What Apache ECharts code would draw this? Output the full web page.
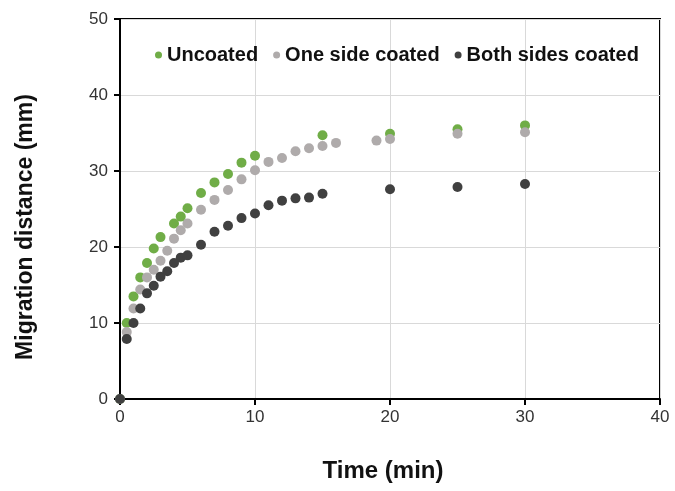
<!DOCTYPE html>
<html>
<head>
<meta charset="utf-8">
<script src="https://cdn.jsdelivr.net/npm/echarts@6/dist/echarts.min.js"></script>
<style>
html,body{margin:0;padding:0;background:#fff}
#chart{width:675px;height:491px}
</style>
</head>
<body>
<div id="chart"></div>
<script>
// data: [time (min), migration distance (mm)]
var uncoated = [[0,0],[0.5,10],[1,13.5],[1.5,16],[2,17.9],[2.5,19.8],[3,21.3],[4,23.1],[4.5,24],[5,25.1],
  [6,27.1],[7,28.5],[8,29.6],[9,31.1],[10,32],[15,34.7],[20,34.9],[25,35.5],[30,36]];
var oneSide = [[0,0],[0.5,8.8],[1,11.9],[1.5,14.4],[2,16],[2.5,17],[3,18.2],[3.5,19.5],[4,21.1],[4.5,22.2],
  [5,23.1],[6,24.9],[7,26.2],[8,27.5],[9,28.9],[10,30.1],[11,31.2],[12,31.7],[13,32.6],[14,33],
  [15,33.3],[16,33.7],[19,34],[20,34.2],[25,34.9],[30,35.1]];
var bothSides = [[0,0],[0.5,7.9],[1,10],[1.5,11.9],[2,13.9],[2.5,14.9],[3,16.1],[3.5,16.8],[4,17.9],[4.5,18.6],
  [5,18.9],[6,20.3],[7,22],[8,22.8],[9,23.8],[10,24.4],[11,25.5],[12,26.1],[13,26.4],[14,26.5],
  [15,27],[20,27.6],[25,27.9],[30,28.3]];
var seriesNames = ['Uncoated','One side coated','Both sides coated'];
var colors = ['#70ad47','#afabab','#404040'];

var myChart = echarts.init(document.getElementById('chart'));
var font = 'Arial, "Liberation Sans", sans-serif';
var option = {
  animation: false,
  color: colors,
  grid: {
    left: 120, right: 15, top: 19, bottom: 92,
    show: true, borderColor: '#000', borderWidth: 2
  },
  legend: {
    top: 40, left: 150,
    icon: 'circle', itemWidth: 7, itemHeight: 7, itemGap: 15,
    textStyle: {fontFamily: font, fontWeight: 'bold', fontSize: 20, color: '#111'},
    data: seriesNames
  },
  xAxis: {
    type: 'value', min: 0, max: 40, interval: 10,
    name: 'Time (min)', nameLocation: 'middle', nameGap: 60,
    nameTextStyle: {fontFamily: font, fontWeight: 'bold', fontSize: 24, color: '#111', padding: [0, 14, 0, 0]},
    axisLine: {lineStyle: {color: '#000', width: 2}},
    axisTick: {show: true, length: 6, lineStyle: {color: '#000', width: 2}},
    axisLabel: {fontFamily: font, fontSize: 17, color: '#333', margin: 10},
    splitLine: {lineStyle: {color: '#d9d9d9', width: 1}}
  },
  yAxis: {
    type: 'value', min: 0, max: 50, interval: 10,
    name: 'Migration distance (mm)', nameLocation: 'middle', nameGap: 83,
    nameTextStyle: {fontFamily: font, fontWeight: 'bold', fontSize: 23, color: '#111', padding: [0, 36, 0, 0]},
    axisLine: {lineStyle: {color: '#000', width: 2}},
    axisTick: {show: true, length: 6, lineStyle: {color: '#000', width: 2}},
    axisLabel: {fontFamily: font, fontSize: 17, color: '#333', margin: 12},
    splitLine: {lineStyle: {color: '#d9d9d9', width: 1}}
  },
  series: [
    {name: seriesNames[0], type: 'scatter', symbolSize: 10, itemStyle: {opacity: 1}, data: uncoated},
    {name: seriesNames[1], type: 'scatter', symbolSize: 10, itemStyle: {opacity: 1}, data: oneSide},
    {name: seriesNames[2], type: 'scatter', symbolSize: 10, itemStyle: {opacity: 1}, data: bothSides}
  ]
};
myChart.setOption(option);
</script>
</body>
</html>
